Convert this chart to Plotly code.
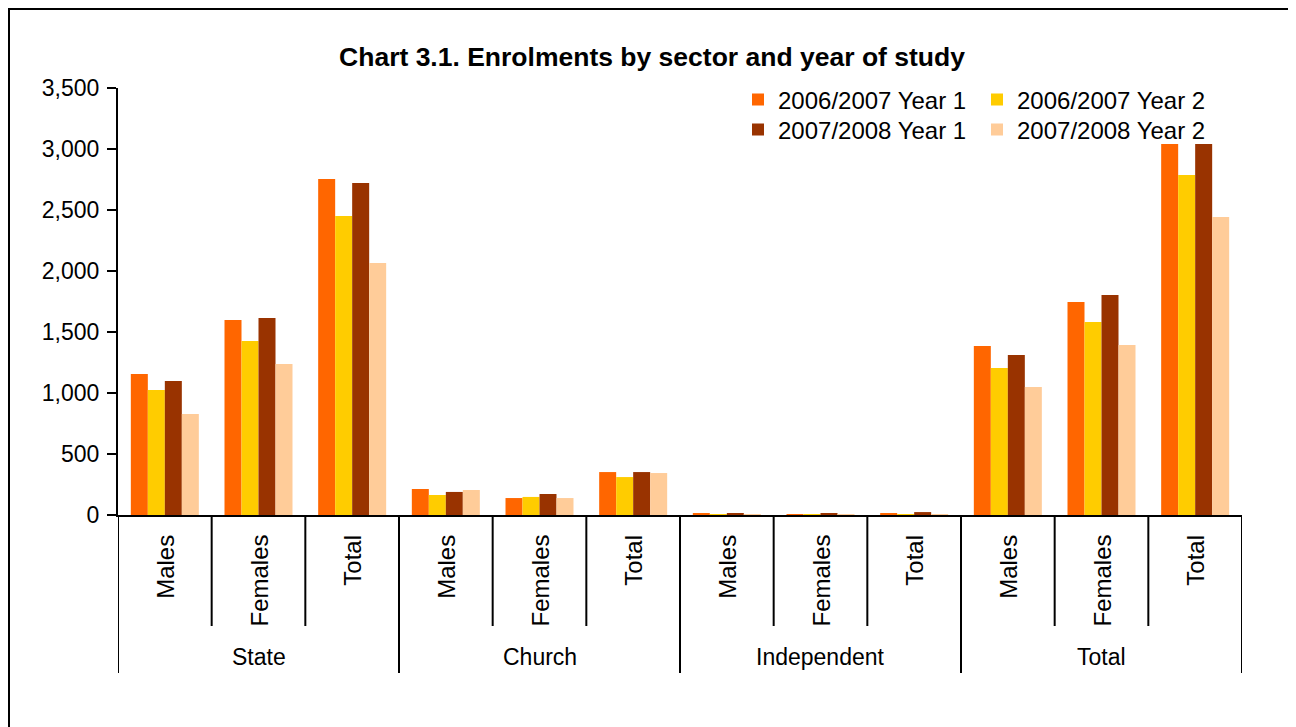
import plotly.graph_objects as go

sectors = ["State", "Church", "Independent", "Total"]
groups = ["Males", "Females", "Total"]
series_names = ["2006/2007 Year 1", "2006/2007 Year 2", "2007/2008 Year 1", "2007/2008 Year 2"]
colors = ["#FF6600", "#FFCC00", "#993300", "#FFCC99"]

y0607_y1 = [1156, 1598, 2754, 213, 139, 352, 12, 4, 16, 1385, 1746, 3131]
y0607_y2 = [1025, 1426, 2451, 164, 148, 311, 5, 3, 8, 1205, 1582, 2787]
y0708_y1 = [1098, 1615, 2721, 189, 172, 352, 12, 12, 24, 1311, 1803, 3114]
y0708_y2 = [828, 1238, 2066, 205, 139, 344, 3, 4, 7, 1049, 1393, 2442]
series_values = [y0607_y1, y0607_y2, y0708_y1, y0708_y2]

FONT = "Arial, Liberation Sans, sans-serif"
OFF = 8  # page body margin
W, H = 1296 - OFF, 727 - OFF
L, T = 118 - OFF, 88 - OFF
PW, PH = 1124, 427
R, B = W - L - PW, H - T - PH


def px_x(p):  # screen px -> paper
    return (p - OFF - L) / PW


def px_y(p):
    return (T + PH - (p - OFF)) / PH


n_cat = len(sectors) * len(groups)
positions = list(range(n_cat))

fig = go.Figure()
legend_of = ["legend", "legend", "legend2", "legend2"]
for name, vals, col, lg in zip(series_names, series_values, colors, legend_of):
    fig.add_trace(go.Bar(x=positions, y=vals, name=name, marker_color=col,
                         marker_line_width=0, legend=lg))

shapes = []
for i in range(n_cat + 1):
    outer = (i % len(groups) == 0)
    shapes.append(dict(type="line", xref="x", yref="paper", x0=i - 0.5, x1=i - 0.5,
                       y0=0, y1=px_y(673 if outer else 626),
                       line=dict(color="black", width=2)))
# outer frame
shapes.append(dict(type="rect", xref="paper", yref="paper",
                   x0=px_x(OFF + 1), x1=px_x(1330), y0=px_y(780), y1=px_y(OFF + 1),
                   line=dict(color="black", width=2), fillcolor="rgba(0,0,0,0)", layer="below"))
# legend box background (white, drawn over the plot like the original legend box)
shapes.append(dict(type="rect", xref="paper", yref="paper",
                   x0=px_x(745), x1=px_x(1224), y0=px_y(144), y1=px_y(84),
                   line=dict(width=0), fillcolor="white", layer="above"))

annotations = []
for i in positions:
    annotations.append(dict(x=i, y=px_y(533), xref="x", yref="paper", text=groups[i % len(groups)],
                            showarrow=False, textangle=-90, yanchor="top", xanchor="center",
                            font=dict(family=FONT, size=24, color="black")))
for k, s in enumerate(sectors):
    annotations.append(dict(x=k * len(groups) + (len(groups) - 1) / 2, y=px_y(657), xref="x", yref="paper",
                            text=s, showarrow=False, yanchor="middle", xanchor="center",
                            font=dict(family=FONT, size=23, color="black")))

legend_common = dict(xanchor="left", yanchor="middle", orientation="h", entrywidth=194,
                     entrywidthmode="pixels", bgcolor="rgba(0,0,0,0)", borderwidth=0,
                     font=dict(family=FONT, size=24, color="black"))

fig.update_layout(
    width=W, height=H,
    margin=dict(l=L, r=R, t=T, b=B),
    paper_bgcolor="white", plot_bgcolor="white",
    barmode="group", bargap=0.274, bargroupgap=0,
    title=dict(text="<b>Chart 3.1. Enrolments by sector and year of study</b>",
               x=(652 - OFF) / W, xanchor="center", y=1 - (57 - OFF) / H, yanchor="middle",
               font=dict(family=FONT, size=26.5, color="black")),
    xaxis=dict(range=[-0.5, n_cat - 0.5], showticklabels=False, ticks="", showgrid=False,
               zeroline=False, showline=True, linecolor="black", linewidth=2, fixedrange=True),
    yaxis=dict(range=[0, 3500], dtick=500, tick0=0, tickformat=",", showgrid=False, zeroline=False,
               showline=True, linecolor="black", linewidth=2, ticks="outside", ticklen=9,
               tickwidth=2, tickcolor="black", ticklabelstandoff=3,
               tickfont=dict(family=FONT, size=23, color="black")),
    legend=dict(x=px_x(738), y=px_y(100), **legend_common),
    legend2=dict(x=px_x(738), y=px_y(130), **legend_common),
    shapes=shapes, annotations=annotations,
    font=dict(family=FONT, color="black"),
)

fig.write_html("out.html")
